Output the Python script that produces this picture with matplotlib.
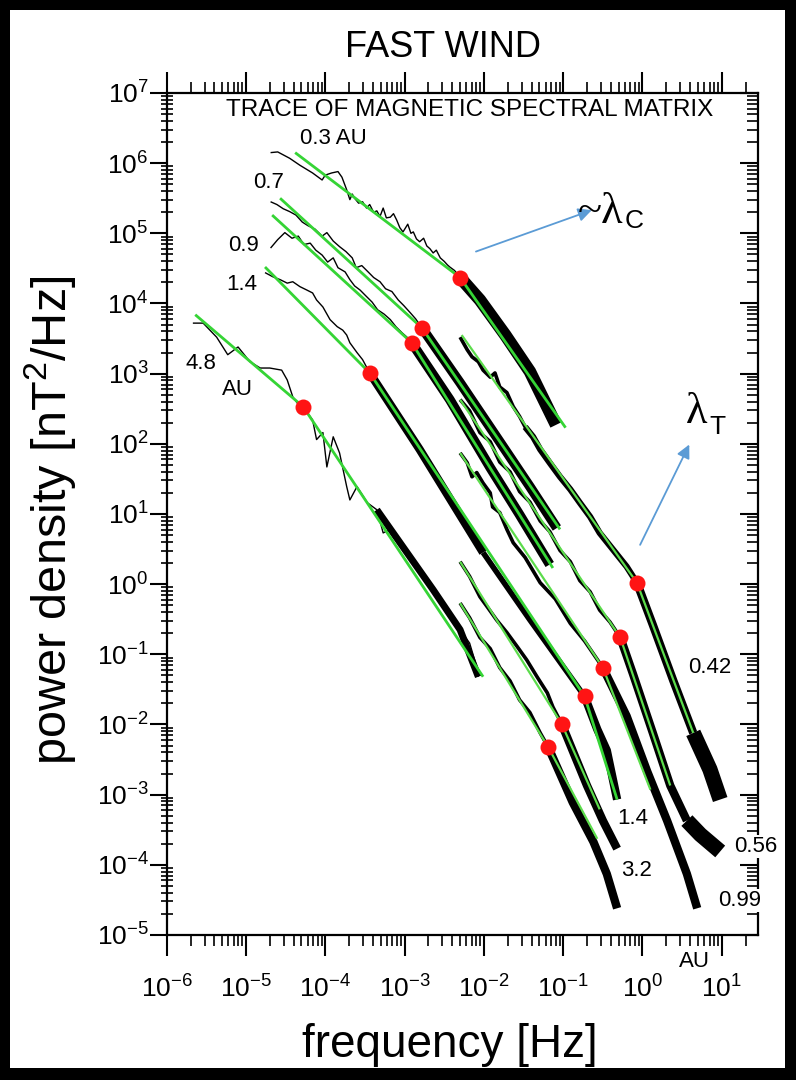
import numpy as np
import matplotlib
matplotlib.use('Agg')
import matplotlib.pyplot as plt
from matplotlib.patches import Rectangle
from matplotlib.ticker import FixedLocator, FuncFormatter, NullFormatter

plt.rcParams['font.family'] = ['Liberation Sans', 'DejaVu Sans']
plt.rcParams['mathtext.fontset'] = 'custom'
plt.rcParams['mathtext.rm'] = 'Liberation Sans'
plt.rcParams['mathtext.it'] = 'Liberation Sans:italic'
plt.rcParams['mathtext.bf'] = 'Liberation Sans:bold'

# all values are log10(f [Hz]) and log10(P [nT^2/Hz])

# 0.3 AU
f03 = [-4.69, -4.60, -4.45, -4.32, -4.16, -4.04, -4.00, -3.92, -3.84, -3.79, -3.73,
       -3.69, -3.66, -3.63, -3.58, -3.53, -3.48, -3.44, -3.39, -3.35, -3.31, -3.27,
       -3.23, -3.18, -3.14, -3.10, -3.06, -3.02, -2.96, -2.92, -2.89, -2.85, -2.81,
       -2.76, -2.72, -2.68, -2.64, -2.60, -2.55, -2.50, -2.46, -2.43, -2.37, -2.30]
p03 = [6.15, 6.16, 6.07, 5.97, 5.86, 5.76, 5.83, 5.86, 5.88, 5.80, 5.62,
       5.48, 5.56, 5.50, 5.43, 5.45, 5.36, 5.41, 5.30, 5.32, 5.24, 5.36,
       5.22, 5.23, 5.28, 5.19, 5.08, 5.02, 5.13, 5.00, 5.02, 4.92, 4.88,
       4.93, 4.82, 4.78, 4.72, 4.76, 4.65, 4.60, 4.55, 4.52, 4.47, 4.37]
f03_band = [-2.30, -2.05, -1.73, -1.42, -1.09]
p03_band = [4.37, 4.05, 3.55, 3.03, 2.27]
f03_fit = [-4.38, -2.30, -0.97]
p03_fit = [6.15, 4.37, 2.23]

# 0.7 AU
f07 = [-4.69, -4.61, -4.53, -4.45, -4.37, -4.29, -4.22, -4.13, -4.04, -3.98, -3.90, -3.82,
       -3.74, -3.66, -3.61, -3.54, -3.46, -3.39, -3.31, -3.24, -3.16, -3.08, -3.01, -2.93,
       -2.86, -2.78]
p07 = [5.45, 5.41, 5.35, 5.31, 5.26, 5.16, 5.11, 5.06, 4.96, 5.01, 4.89, 4.81,
       4.74, 4.65, 4.51, 4.54, 4.45, 4.37, 4.31, 4.21, 4.17, 4.05, 3.97, 3.87,
       3.78, 3.65]
f07_band = [-2.78, -2.30, -1.80, -1.42, -1.08]
p07_band = [3.65, 2.87, 2.03, 1.39, 0.80]
f07_fit = [-4.57, -2.78, -1.04]
p07_fit = [5.50, 3.65, 0.78]

# 0.9 AU
f09 = [-4.69, -4.60, -4.51, -4.42, -4.34, -4.27, -4.19, -4.12, -4.04, -3.97, -3.90, -3.84,
       -3.75, -3.69, -3.63, -3.56, -3.49, -3.41, -3.34, -3.26, -3.18, -3.11, -3.03, -2.97,
       -2.91]
p09 = [4.79, 4.91, 5.01, 4.93, 4.96, 4.84, 4.86, 4.76, 4.69, 4.59, 4.65, 4.51,
       4.45, 4.34, 4.25, 4.19, 4.11, 4.02, 3.91, 3.85, 3.77, 3.67, 3.58, 3.52,
       3.44]
f09_band = [-2.91, -2.43, -1.92, -1.55, -1.17]
p09_band = [3.44, 2.63, 1.66, 0.99, 0.28]
f09_fit = [-4.67, -2.91, -1.13]
p09_fit = [5.26, 3.44, 0.23]

# 1.4 AU (low and high frequency)
f14 = [-4.76, -4.66, -4.57, -4.48, -4.41, -4.32, -4.23, -4.16, -4.11, -4.03, -3.94, -3.85,
       -3.78, -3.73, -3.69, -3.60, -3.53, -3.44]
p14 = [4.44, 4.38, 4.34, 4.29, 4.31, 4.24, 4.19, 4.15, 4.05, 3.95, 3.77, 3.67,
       3.62, 3.55, 3.44, 3.30, 3.20, 3.01]
f14_band = [-3.44, -2.81, -2.01]
p14_band = [3.01, 1.92, 0.45]
f14_mid = [-2.01, -1.42, -0.73]
p14_mid = [0.45, -0.51, -1.60]
f14_hi = [-0.73, -0.57, -0.45, -0.32]
p14_hi = [-1.60, -2.07, -2.37, -3.07]
f14_fit = [-4.76, -3.44, -0.73, -0.32]
p14_fit = [4.52, 3.01, -1.60, -3.07]

# 4.8 AU
f48 = [-5.67, -5.54, -5.37, -5.23, -5.10, -4.95, -4.82, -4.70, -4.55, -4.48, -4.41, -4.34,
       -4.28, -4.16, -4.11, -4.03, -3.98, -3.90, -3.82, -3.73, -3.69, -3.60, -3.47, -3.35,
       -3.27, -3.18, -3.10, -3.02, -2.93, -2.84, -2.77, -2.64, -2.55, -2.43, -2.30, -2.18,
       -2.09, -2.07]
p48 = [3.72, 3.72, 3.52, 3.27, 3.38, 3.17, 3.08, 3.08, 3.05, 2.91, 2.67, 2.56,
       2.53, 2.34, 2.06, 2.16, 1.67, 2.10, 1.87, 1.39, 1.20, 1.39, 1.16, 1.06,
       0.73, 0.78, 0.63, 0.53, 0.39, 0.25, 0.11, -0.08, -0.22, -0.41, -0.65, -0.84,
       -1.18, -1.32]
f48_band = [-3.35, -3.02, -2.64, -2.30, -2.07]
p48_band = [1.06, 0.53, -0.08, -0.65, -1.32]
f48_fit = [-5.64, -4.28, -2.01]
p48_fit = [3.84, 2.53, -1.32]

# high frequency spectra: 0.42, 0.56, 0.99, 1.4, 3.2 AU
f042 = [-2.30, -2.21, -2.15, -2.07, -2.01, -1.92, -1.86, -1.80, -1.71, -1.63, -1.55, -1.48,
        -1.38, -1.29, -1.17, -1.04, -0.91, -0.79, -0.66, -0.54, -0.37, -0.20, -0.07]
p042 = [3.52, 3.34, 3.24, 3.17, 3.05, 2.95, 3.01, 2.81, 2.73, 2.53, 2.39, 2.24,
        2.10, 1.92, 1.73, 1.53, 1.35, 1.16, 0.96, 0.73, 0.49, 0.25, 0.02]
f042_band = [-0.07, 0.13, 0.39, 0.64]
p042_band = [0.02, -0.58, -1.38, -2.12]
f042_tail = [0.64, 0.85, 0.98]
p042_tail = [-2.12, -2.64, -3.07]
f042_fit = [-2.28, -0.07, 0.64]
p042_fit = [3.55, 0.02, -2.12]

f056 = [-2.30, -2.18, -2.05, -1.92, -1.80, -1.67, -1.55, -1.42, -1.29, -1.17, -1.04, -0.91,
        -0.79, -0.66, -0.54, -0.41, -0.28]
p056 = [2.63, 2.47, 2.16, 2.03, 1.74, 1.60, 1.32, 1.17, 0.90, 0.75, 0.48, 0.32,
        0.05, -0.11, -0.37, -0.54, -0.76]
f056_band = [-0.28, -0.12, 0.13, 0.35, 0.56]
p056_band = [-0.76, -1.28, -2.12, -2.87, -3.37]
f056_tail = [0.56, 0.73, 0.98]
p056_tail = [-3.37, -3.57, -3.81]
f056_fit = [-2.30, -0.28, 0.35]
p056_fit = [2.63, -0.76, -2.87]

f099 = [-2.30, -2.21, -2.15, -2.09, -2.01, -1.92, -1.89, -1.80, -1.71, -1.63, -1.48, -1.29,
        -1.10, -0.91, -0.73, -0.50]
p099 = [1.87, 1.73, 1.53, 1.59, 1.44, 1.30, 1.10, 1.02, 0.78, 0.59, 0.38, 0.02,
        -0.21, -0.56, -0.81, -1.19]
f099_band = [-0.50, -0.20, 0.06, 0.31, 0.56, 0.69]
p099_band = [-1.19, -1.88, -2.67, -3.37, -4.13, -4.62]
f099_fit = [-2.30, -0.50, 0.10]
p099_fit = [1.87, -1.19, -2.93]

f14b = [-2.30, -2.18, -2.05, -1.96, -1.84, -1.71, -1.58, -1.46, -1.33, -1.20, -1.13, -1.02]
p14b = [0.32, 0.11, -0.18, -0.32, -0.51, -0.69, -0.89, -1.08, -1.32, -1.55, -1.75, -1.99]
f14b_band = [-1.02, -0.70, -0.50, -0.32]
p14b_band = [-1.99, -2.87, -3.37, -3.77]
f14b_fit = [-2.30, -1.02, -0.54]
p14b_fit = [0.32, -1.99, -3.21]

f32 = [-2.30, -2.18, -2.05, -1.92, -1.80, -1.67, -1.55, -1.42, -1.29, -1.19]
p32 = [-0.27, -0.48, -0.76, -0.92, -1.19, -1.38, -1.65, -1.83, -2.12, -2.32]
f32_band = [-1.19, -0.88, -0.62, -0.45, -0.32]
p32_band = [-2.32, -3.11, -3.67, -4.13, -4.62]
f32_fit = [-2.30, -1.19, -0.57]
p32_fit = [-0.27, -2.32, -3.63]

# spectral breaks (red dots)
dot_f = [-2.30, -2.78, -2.91, -3.44, -4.28, -0.07, -0.28, -0.50, -0.73, -1.02, -1.19]
dot_p = [4.37, 3.65, 3.44, 3.01, 2.53, 0.02, -0.76, -1.19, -1.60, -1.99, -2.32]

GREEN = '#35d435'
LGREEN = '#5cdc4c'
RED = '#ff1414'
BLUE = '#5b9bd5'


def pw(a):
    return np.power(10.0, np.asarray(a))


fig = plt.figure(figsize=(7.96, 10.8), dpi=100, facecolor='black')
fig.patches.append(Rectangle((10 / 796, 12 / 1080), 775 / 796, 1058 / 1080,
                             transform=fig.transFigure, facecolor='white',
                             edgecolor='none', zorder=-5))
ax = fig.add_axes([0.2094, 0.1343, 0.7429, 0.7796])
ax.set_facecolor('white')
ax.set_xscale('log')
ax.set_yscale('log')
ax.set_xlim(1e-6, 10 ** 1.457)
ax.set_ylim(1e-5, 1e7)


def line(f, p, lw, color='black', z=2):
    ax.plot(pw(f), pw(p), color=color, lw=lw, zorder=z,
            solid_capstyle='butt', solid_joinstyle='round')


# low-frequency parts (thin, jagged)
for f, p in [(f03, p03), (f07, p07), (f09, p09), (f14, p14), (f48, p48)]:
    line(f, p, 1.0)

# noisy high-frequency bands
line(f03_band, p03_band, 9)
line(f07_band, p07_band, 7)
line(f09_band, p09_band, 7)
line(f14_band, p14_band, 6)
line(f14_mid, p14_mid, 4)
line(f14_hi, p14_hi, 6)
line(f48_band, p48_band, 5)

for f, p in [(f042, p042), (f056, p056), (f099, p099), (f14b, p14b), (f32, p32)]:
    line(f, p, 2.6)
line(f042[11:], p042[11:], 4.5)
line(f042_band, p042_band, 6)
line(f042_tail, p042_tail, 11)
line(f056_band, p056_band, 6)
line(f056_tail, p056_tail, 11)
line(f099_band, p099_band, 6)
line(f14b_band, p14b_band, 6)
line(f32_band, p32_band, 6)

# power-law fits
for f, p in [(f03_fit, p03_fit), (f07_fit, p07_fit), (f09_fit, p09_fit),
             (f14_fit, p14_fit), (f48_fit, p48_fit)]:
    line(f, p, 2.0, GREEN, 3)
for f, p in [(f042_fit, p042_fit), (f056_fit, p056_fit), (f099_fit, p099_fit),
             (f14b_fit, p14b_fit), (f32_fit, p32_fit)]:
    line(f, p, 1.6, LGREEN, 3)

ax.plot(pw(dot_f), pw(dot_p), 'o', color=RED, ms=11.5, mec='none', zorder=4)

# ticks
xmaj = 10.0 ** np.arange(-6, 2)
xmin = [k * 10.0 ** d for d in range(-6, 2) for k in range(2, 10)]
ymaj = 10.0 ** np.arange(-5, 8)
ymin = [k * 10.0 ** d for d in range(-5, 7) for k in range(2, 10)]
fmt = FuncFormatter(lambda v, pos: r'$10^{%d}$' % int(round(np.log10(v))))

ax.xaxis.set_major_locator(FixedLocator(xmaj))
ax.xaxis.set_minor_locator(FixedLocator(xmin))
ax.xaxis.set_major_formatter(fmt)
ax.xaxis.set_minor_formatter(NullFormatter())
ax.yaxis.set_major_locator(FixedLocator(ymaj))
ax.yaxis.set_minor_locator(FixedLocator(ymin))
ax.yaxis.set_major_formatter(fmt)
ax.yaxis.set_minor_formatter(NullFormatter())

ax.tick_params(axis='x', which='major', direction='out', length=15, width=1.5,
               labelsize=19, pad=14, top=True)
ax.tick_params(axis='x', which='minor', direction='out', length=8, width=1.2, top=True)
ax.tick_params(axis='y', which='major', direction='out', length=12, width=1.5,
               labelsize=19, pad=1, right=False)
ax.tick_params(axis='y', which='minor', direction='inout', length=8, width=1.2, right=False)
for s in ax.spines.values():
    s.set_linewidth(1.6)
ax.spines['right'].set_visible(False)

ax2 = ax.twinx()
ax2.set_yscale('log')
ax2.set_ylim(1e-5, 1e7)
ax2.yaxis.set_major_locator(FixedLocator(ymaj))
ax2.yaxis.set_minor_locator(FixedLocator(ymin))
ax2.yaxis.set_major_formatter(NullFormatter())
ax2.yaxis.set_minor_formatter(NullFormatter())
ax2.tick_params(axis='y', which='major', direction='in', length=13, width=1.5)
ax2.tick_params(axis='y', which='minor', direction='in', length=8, width=1.2)
for k in ['left', 'top', 'bottom']:
    ax2.spines[k].set_visible(False)
ax2.spines['right'].set_linewidth(1.6)

# curve labels
labels = [('0.3 AU', -3.90, 6.35), ('0.7', -4.71, 5.73), ('0.9', -5.03, 4.82),
          ('1.4', -5.05, 4.27), ('4.8', -5.57, 3.14), ('AU', -5.11, 2.77),
          ('0.42', 0.85, -1.19), ('1.4', -0.12, -3.34), ('3.2', -0.07, -4.08)]
for txt, lf, lp in labels:
    ax.text(pw(lf), pw(lp), txt, fontsize=16, ha='center', va='center', zorder=5)
for txt, lf, lp in [('0.56', 1.43, -3.74), ('0.99', 1.23, -4.51)]:
    ax2.text(pw(lf), pw(lp), txt, fontsize=16, ha='center', va='center', zorder=6,
             bbox=dict(facecolor='white', edgecolor='none', pad=1.0), clip_on=False)
ax.text(pw(0.65), pw(-5.38), 'AU', fontsize=16, ha='center', va='center', clip_on=False)

ax.text(0.513, 0.9727, 'TRACE OF MAGNETIC SPECTRAL MATRIX', transform=ax.transAxes,
        fontsize=17.5, ha='center', va='baseline')

# break-scale arrows
ax2.annotate('', xy=(pw(-0.64), pw(5.33)), xytext=(pw(-2.10), pw(4.74)),
             arrowprops=dict(arrowstyle='-|>', color=BLUE, lw=1.3, mutation_scale=20,
                             shrinkA=0, shrinkB=0))
ax2.annotate('', xy=(pw(0.59), pw(1.99)), xytext=(pw(-0.03), pw(0.56)),
             arrowprops=dict(arrowstyle='-|>', color=BLUE, lw=1.3, mutation_scale=20,
                             shrinkA=0, shrinkB=0))
ax2.text(pw(-0.81), pw(5.31), '~λ', fontsize=32, family='Liberation Serif',
         ha='left', va='center')
ax2.text(pw(-0.23), pw(5.17), 'C', fontsize=19, ha='left', va='center')
ax2.text(pw(0.55), pw(2.46), 'λ', fontsize=32, family='Liberation Serif',
         ha='left', va='center')
ax2.text(pw(0.84), pw(2.24), 'T', fontsize=19, ha='left', va='center')

fig.text(0.5565, 1 - 57 / 1080, 'FAST WIND', fontsize=26, ha='center', va='baseline')
fig.text(0.5653, 0.0324, 'frequency [Hz]', fontsize=33, ha='center', va='center')
fig.text(0.0628, 0.5185, r'power density [nT$^2$/Hz]', fontsize=35, ha='center',
         va='center', rotation=90)

fig.savefig('out.png', dpi=100, facecolor=fig.get_facecolor())
